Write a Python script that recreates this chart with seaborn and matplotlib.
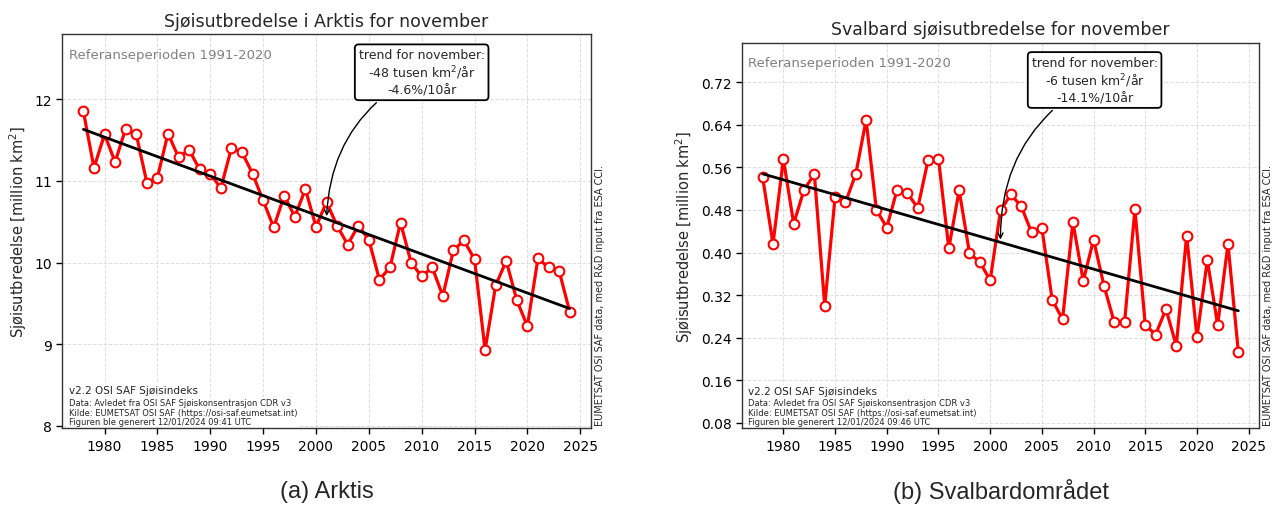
import numpy as np
import pandas as pd
import matplotlib
matplotlib.use("Agg")
import matplotlib.pyplot as plt
import seaborn as sns

years = list(range(1978, 2025))

arktis = [11.85, 11.16, 11.57, 11.23, 11.64, 11.57, 10.98, 11.04, 11.58, 11.29,
          11.38, 11.14, 11.09, 10.91, 11.40, 11.35, 11.09, 10.76, 10.43, 10.82,
          10.56, 10.90, 10.44, 10.74, 10.45, 10.22, 10.45, 10.28, 9.79, 9.94,
          10.49, 10.00, 9.83, 9.94, 9.59, 10.15, 10.27, 10.04, 8.93, 9.72,
          10.02, 9.54, 9.22, 10.05, 9.94, 9.90, 9.40]

svalbard = [0.541, 0.416, 0.576, 0.454, 0.518, 0.547, 0.300, 0.504, 0.494, 0.547,
            0.649, 0.480, 0.447, 0.518, 0.511, 0.484, 0.574, 0.576, 0.408, 0.517,
            0.399, 0.382, 0.348, 0.479, 0.509, 0.487, 0.438, 0.446, 0.311, 0.275,
            0.457, 0.347, 0.424, 0.338, 0.269, 0.270, 0.481, 0.264, 0.246, 0.294,
            0.225, 0.432, 0.241, 0.386, 0.264, 0.416, 0.213]

titles = ["Sjøisutbredelse i Arktis for november", "Svalbard sjøisutbredelse for november"]
captions = ["(a) Arktis", "(b) Svalbardområdet"]
trend_texts = ["trend for november:\n-48 tusen km$^2$/år\n-4.6%/10år",
               "trend for november:\n-6 tusen km$^2$/år\n-14.1%/10år"]
gen_times = ["12/01/2024 09:41 UTC", "12/01/2024 09:46 UTC"]
x_ticks = [1980, 1985, 1990, 1995, 2000, 2005, 2010, 2015, 2020, 2025]
y_ticks_a = [8, 9, 10, 11, 12]
y_ticks_b = [0.08, 0.16, 0.24, 0.32, 0.40, 0.48, 0.56, 0.64, 0.72]

sns.set_style("white")
plt.rcParams['font.family'] = ['DejaVu Sans']

fig = plt.figure(figsize=(12.76, 5.06), dpi=100)
ax_a = fig.add_axes([0.0488, 0.1516, 0.4142, 0.7794])
ax_b = fig.add_axes([0.5815, 0.1516, 0.4052, 0.7620])

configs = [
    (ax_a, arktis, y_ticks_a, (7.97, 12.8), "{:g}", (2010.0, 12.33)),
    (ax_b, svalbard, y_ticks_b, (0.070, 0.794), "{:.2f}", (2010.1, 0.724)),
]

for i, (ax, vals, yt, ylim, fmt, box_xy) in enumerate(configs):
    df = pd.DataFrame({"year": years, "extent": vals})
    sns.lineplot(data=df, x="year", y="extent", ax=ax, color="red", linewidth=2.3,
                 marker="o", markersize=7, markerfacecolor="white",
                 markeredgecolor="red", markeredgewidth=1.5, zorder=3)
    coef = np.polyfit(df["year"], df["extent"], 1)
    tr = pd.DataFrame({"year": [years[0], years[-1]]})
    tr["extent"] = np.polyval(coef, tr["year"])
    sns.lineplot(data=tr, x="year", y="extent", ax=ax, color="black", linewidth=2, zorder=4)

    ax.set_xlim(1976, 2026)
    ax.set_ylim(*ylim)
    ax.set_xticks(x_ticks)
    ax.set_yticks(yt)
    ax.set_yticklabels([fmt.format(v) for v in yt])
    ax.tick_params(axis='both', labelsize=10, direction='out', length=4, width=1,
                   left=True, bottom=True, colors='black')
    ax.grid(True, color='#dddddd', linestyle='--', linewidth=0.7)
    for s in ax.spines.values():
        s.set_visible(True)
        s.set_color('#333333')
        s.set_linewidth(1.0)
    ax.set_xlabel("")
    ax.set_ylabel("Sjøisutbredelse [million km$^2$]", fontsize=10.5)
    ax.set_title(titles[i], fontsize=12.5, pad=6)

    ax.text(0.012, 0.965, "Referanseperioden 1991-2020", transform=ax.transAxes,
            fontsize=9.5, color='gray', ha='left', va='top')

    ax.text(0.012, 0.085, "v2.2 OSI SAF Sjøisindeks", transform=ax.transAxes,
            fontsize=7.5, ha='left', va='bottom',
            bbox=dict(facecolor='white', edgecolor='none', pad=0.5))
    ax.text(0.012, 0.005,
            "Data: Avledet fra OSI SAF Sjøiskonsentrasjon CDR v3\n"
            "Kilde: EUMETSAT OSI SAF (https://osi-saf.eumetsat.int)\n"
            "Figuren ble generert " + gen_times[i],
            transform=ax.transAxes, fontsize=6, ha='left', va='bottom', linespacing=1.1,
            bbox=dict(facecolor='white', edgecolor='none', pad=0.5))

    ax.annotate("EUMETSAT OSI SAF data, med R&D input fra ESA CCI.",
                xy=(1.0, 0.0), xycoords='axes fraction',
                xytext=(4, 3), textcoords='offset pixels',
                rotation=90, fontsize=7.0, ha='left', va='bottom')

    ax.annotate(trend_texts[i], xy=(2001, np.polyval(coef, 2001)), xytext=box_xy,
                textcoords='data', fontsize=9, ha='center', va='center',
                bbox=dict(boxstyle='round,pad=0.3', facecolor='white', edgecolor='black', linewidth=1.3),
                arrowprops=dict(arrowstyle='->', color='black', linewidth=1.0,
                                connectionstyle='arc3,rad=0.3'), zorder=6)

    pos = ax.get_position()
    fig.text((pos.x0 + pos.x1) / 2, 0.028, captions[i], ha='center', va='center',
             fontsize=17, family=['Liberation Sans', 'DejaVu Sans'])

fig.savefig("out.png", dpi=100)
